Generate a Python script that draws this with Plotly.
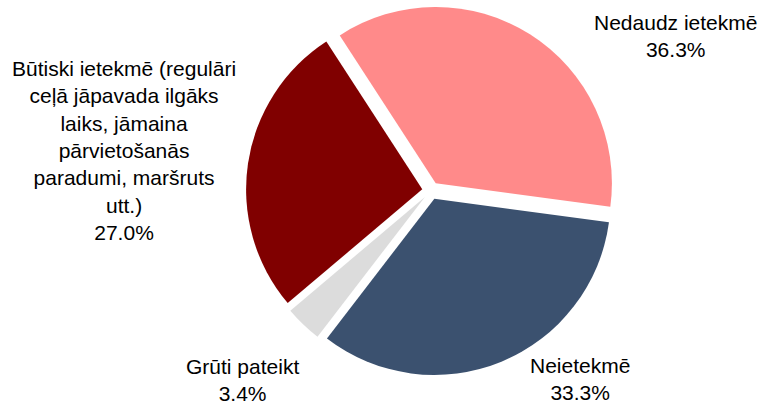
import plotly.graph_objects as go

labels = ["Nedaudz ietekmē", "Neietekmē", "Grūti pateikt",
          "Būtiski ietekmē (regulāri<br>ceļā jāpavada ilgāks<br>laiks, jāmaina<br>pārvietošanās<br>paradumi, maršruts<br>utt.)"]
values = [36.3, 33.3, 3.4, 27.0]
colors = ["#FF8A8A", "#3B516F", "#DCDCDC", "#800000"]
# label block centres in pixels (x, y)
label_pos = [(675, 36), (580, 379), (242, 380), (124, 150)]

W, H = 760, 405
fig = go.Figure(go.Pie(
    labels=labels, values=values, sort=False, direction="clockwise",
    rotation=-33, pull=[0.05] * len(values),
    marker=dict(colors=colors, line=dict(width=0)),
    textinfo="none", hoverinfo="skip", showlegend=False,
    domain=dict(x=[246 / W, 616 / W], y=[1 - 375.6 / H, 1 - 5.6 / H]),
))

for lab, val, (px, py) in zip(labels, values, label_pos):
    fig.add_annotation(
        x=px / W, y=1 - py / H, xref="paper", yref="paper",
        text=f"{lab}<br>{val:.1f}%", showarrow=False,
        xanchor="center", yanchor="middle", align="center",
        font=dict(family="Liberation Sans, Arial, sans-serif", size=21, color="#000000"),
    )

fig.update_layout(
    width=W, height=H, margin=dict(l=0, r=0, t=0, b=0),
    paper_bgcolor="white", plot_bgcolor="white",
)
fig.write_html("out.html", config={"displayModeBar": False},
               post_script="document.body.style.margin='0';")
